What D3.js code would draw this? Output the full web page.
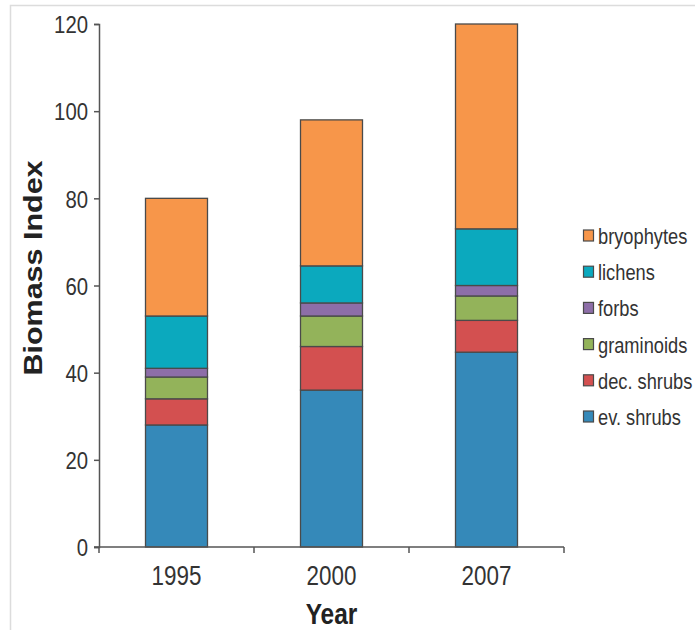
<!DOCTYPE html>
<html>
<head>
<meta charset="utf-8">
<script src="https://cdn.jsdelivr.net/npm/d3@7"></script>
<style>
  html, body { margin: 0; padding: 0; background: #fff; }
  svg { display: block; }
</style>
</head>
<body>
<svg id="chart" width="695" height="630"></svg>
<script>
// ---- data ----
const years = ["1995", "2000", "2007"];
const seriesNames = ["ev. shrubs", "dec. shrubs", "graminoids", "forbs", "lichens", "bryophytes"];
const evShrubs   = [28, 36, 44.7];
const decShrubs  = [6, 10, 7.3];
const graminoids = [5, 7, 5.6];
const forbs      = [2, 3, 2.4];
const lichens    = [12, 8.5, 13];
const bryophytes = [27, 33.5, 47];
const yTicks = [0, 20, 40, 60, 80, 100, 120];
const colors = ["#3589B9", "#D35050", "#93B35A", "#8D6EA8", "#0BA9BE", "#F7964A"];

const seriesValues = [evShrubs, decShrubs, graminoids, forbs, lichens, bryophytes];
const table = years.map((y, i) => {
  const row = { year: y };
  seriesNames.forEach((s, k) => row[s] = seriesValues[k][i]);
  return row;
});

const svg = d3.select("#chart");
const sans = "'Liberation Sans', Arial, Helvetica, sans-serif";
const SX = 0.83; // horizontal condensing of text

// frame
svg.append("path")
  .attr("d", "M10.5,630 L10.5,5.5 L695,5.5")
  .attr("fill", "none").attr("stroke", "#dcdcdc").attr("stroke-width", 1.5);

const x = d3.scaleBand().domain(years).range([99, 564]).padding(0);
const y = d3.scaleLinear().domain([0, 120]).range([547, 24]);

const stack = d3.stack().keys(seriesNames)(table);
const barW = x.bandwidth() * 0.4;

svg.append("g").selectAll("g")
  .data(stack).join("g")
  .attr("fill", (d, i) => colors[i])
  .selectAll("rect")
  .data(d => d).join("rect")
  .attr("x", d => x(d.data.year) + (x.bandwidth() - barW) / 2)
  .attr("width", barW)
  .attr("y", d => y(d[1]))
  .attr("height", d => y(d[0]) - y(d[1]))
  .attr("stroke", "#4a4a4a")
  .attr("stroke-width", 1.3);

// y axis
const yAxis = svg.append("g")
  .attr("transform", "translate(99,0)")
  .call(d3.axisLeft(y).tickValues(yTicks).tickSize(5).tickPadding(5));
yAxis.select(".domain").attr("stroke", "#555").attr("stroke-width", 1.5);
yAxis.selectAll(".tick line").attr("stroke", "#555").attr("stroke-width", 1.5);
yAxis.selectAll(".tick text")
  .attr("font-family", sans).attr("font-size", 24.5).attr("fill", "#333")
  .attr("x", -11 / SX)
  .attr("dy", "0.36em")
  .attr("transform", `scale(${SX},1)`);

// x axis: ticks at band boundaries, labels centered
const xAxis = svg.append("g").attr("transform", "translate(0,547)");
xAxis.append("line").attr("x1", 94).attr("x2", 564).attr("y1", 0).attr("y2", 0)
  .attr("stroke", "#555").attr("stroke-width", 1.5);
const bounds = years.map(yr => x(yr)).concat([x(years[years.length - 1]) + x.bandwidth()]);
xAxis.selectAll("line.tk").data(bounds).join("line").attr("class", "tk")
  .attr("x1", d => d).attr("x2", d => d).attr("y1", 0).attr("y2", 6)
  .attr("stroke", "#555").attr("stroke-width", 1.5);
xAxis.selectAll("text").data(years).join("text")
  .attr("transform", d => `translate(${x(d) + x.bandwidth() / 2},38) scale(${SX},1)`)
  .attr("text-anchor", "middle")
  .attr("font-family", sans).attr("font-size", 27).attr("fill", "#333")
  .text(d => d);

// axis titles
svg.append("text")
  .attr("transform", "translate(42,268) rotate(-90)")
  .attr("text-anchor", "middle")
  .attr("font-family", sans).attr("font-weight", "bold").attr("font-size", 26)
  .attr("fill", "#222")
  .attr("textLength", 215).attr("lengthAdjust", "spacingAndGlyphs")
  .text("Biomass Index");

svg.append("text")
  .attr("transform", `translate(${x("2000") + x.bandwidth() / 2},624) scale(${SX},1)`)
  .attr("text-anchor", "middle")
  .attr("font-family", sans).attr("font-weight", "bold").attr("font-size", 29.5)
  .attr("fill", "#222")
  .text("Year");

// legend (top to bottom reversed order)
const legendItems = seriesNames.map((s, i) => ({ name: s, color: colors[i] })).reverse();
const lg = svg.append("g").attr("transform", "translate(583,236)");
const row = lg.selectAll("g").data(legendItems).join("g")
  .attr("transform", (d, i) => `translate(0,${i * 36.2})`);
row.append("rect").attr("x", 0.5).attr("y", -6).attr("width", 10).attr("height", 11)
  .attr("fill", d => d.color).attr("stroke", "#4a4a4a").attr("stroke-width", 1.2);
row.append("text")
  .attr("transform", `translate(15,0) scale(${SX},1)`)
  .attr("dy", "0.36em")
  .attr("font-family", sans).attr("font-size", 22).attr("fill", "#333")
  .text(d => d.name);
</script>
</body>
</html>
